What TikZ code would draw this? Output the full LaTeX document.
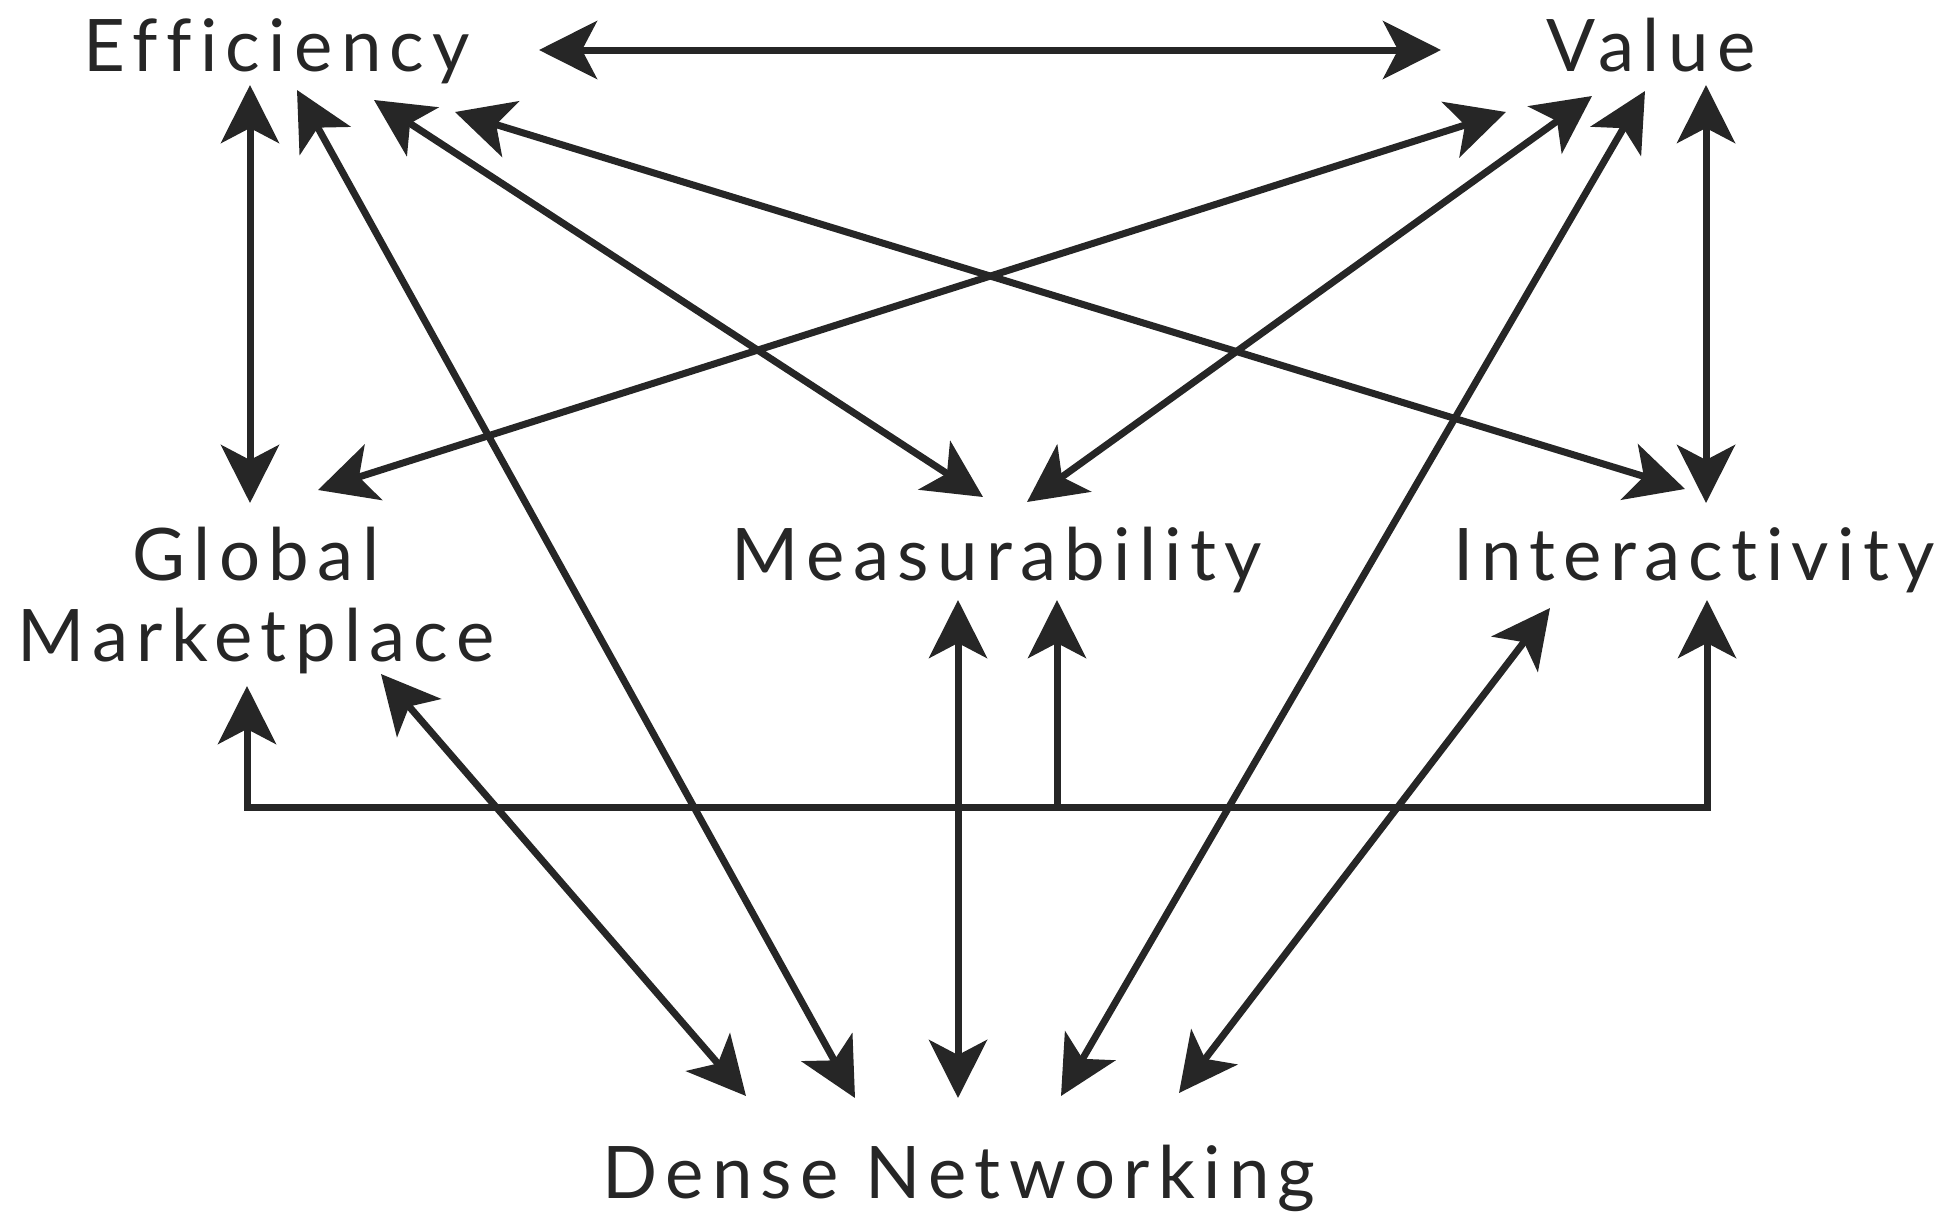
\documentclass[tikz,border=0pt]{standalone}
\usepackage{fontspec}
\setmainfont{Lato}
\newfontfamily\lblfont[LetterSpace=11.5,Ligatures=NoCommon]{Lato}
\usetikzlibrary{arrows.meta}
\definecolor{ink}{HTML}{262626}
\begin{document}
\begin{tikzpicture}[x=1pt,y=-1pt,
  lbl/.style={inner sep=0pt,text=ink,font=\lblfont\fontsize{72.5}{81}\selectfont},
  link/.style={draw=ink,line width=7pt,{Stealth[length=58pt,width=58pt,inset=15pt]}-{Stealth[length=58pt,width=58pt,inset=15pt]}},
  uplink/.style={draw=ink,line width=7pt,-{Stealth[length=58pt,width=58pt,inset=15pt]}}]
\useasboundingbox (0,0) rectangle (1957,1218);
% labels
\node[lbl,anchor=base] (eff) at (277,71) {Efficiency};
\node[lbl,anchor=base] (val) at (1651,71) {Value};
\node[lbl,anchor=base,align=center] (glob) at (256,661) {Global\\Marketplace};
\node[lbl,anchor=base] (meas) at (997,580) {Measurability};
\node[lbl,anchor=base] (inter) at (1694,580) {Interactivity};
\node[lbl,anchor=base] (dense) at (959,1198) {Dense Networking};
% endpoints
\coordinate (effR) at (539,50);
\coordinate (valL) at (1441,50);
\coordinate (effA) at (250,85);
\coordinate (effB) at (297,90);
\coordinate (effC) at (374,100);
\coordinate (effD) at (455,112);
\coordinate (valA) at (1506,112);
\coordinate (valB) at (1592,96);
\coordinate (valC) at (1645,91);
\coordinate (valD) at (1706,85);
\coordinate (globT) at (250,503);
\coordinate (globV) at (318,490);
\coordinate (measE) at (983,497);
\coordinate (measV) at (1027,502);
\coordinate (interE) at (1685,489);
\coordinate (interV) at (1706,503);
\coordinate (globB) at (381,674);
\coordinate (measB) at (958,600);
\coordinate (interB) at (1550,608);
\coordinate (denseA) at (746,1096);
\coordinate (denseB) at (855,1098);
\coordinate (denseC) at (958,1098);
\coordinate (denseD) at (1061,1096);
\coordinate (denseE) at (1179,1093);
\coordinate (busL) at (247,807);
\coordinate (busM) at (1057,807);
\coordinate (busR) at (1707,807);
\coordinate (globU) at (247,686);
\coordinate (measU) at (1057,600);
\coordinate (interU) at (1707,600);
% connectors
\draw[link] (effR) -- (valL);
\draw[link] (effA) -- (globT);
\draw[link] (effB) -- (denseB);
\draw[link] (effC) -- (measE);
\draw[link] (effD) -- (interE);
\draw[link] (valA) -- (globV);
\draw[link] (valB) -- (measV);
\draw[link] (valC) -- (denseD);
\draw[link] (valD) -- (interV);
\draw[link] (globB) -- (denseA);
\draw[link] (measB) -- (denseC);
\draw[link] (interB) -- (denseE);
\draw[uplink] (busM) -- (measU);
\draw[uplink,line join=miter] (busR) -- (busL) -- (globU);
\draw[uplink,line join=miter] (busL) -- (busR) -- (interU);
\end{tikzpicture}
\end{document}
